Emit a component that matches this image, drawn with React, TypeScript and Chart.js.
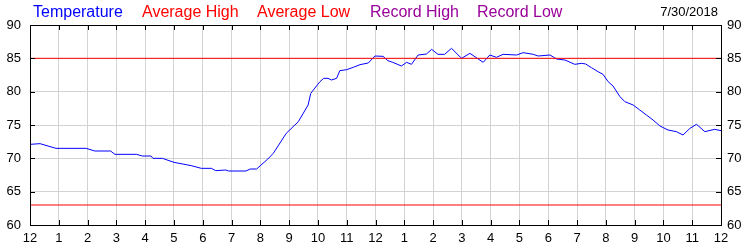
import React, { useEffect, useRef } from "react";
import { Chart, registerables } from "chart.js";

Chart.register(...registerables);

// Hours since midnight (0..24) of each reading
const hours = [
  0, 0.35, 0.9, 1.95, 2.25, 2.8, 2.95, 3.7, 3.9, 4.2, 4.27, 4.6, 5.0, 5.6, 5.95, 6.3, 6.45, 6.8, 6.9, 7.5,
  7.65, 7.87, 8.26, 8.45, 8.9, 9.32, 9.66, 9.75, 10.07, 10.2, 10.35, 10.47, 10.65, 10.76, 11.0, 11.23, 11.46,
  11.75, 11.98, 12.26, 12.43, 12.6, 12.9, 13.08, 13.25, 13.48, 13.77, 13.95, 14.17, 14.4, 14.64, 14.99, 15.28,
  15.74, 15.97, 16.2, 16.43, 16.9, 17.13, 17.48, 17.65, 18.06, 18.29, 18.58, 18.92, 19.16, 19.3, 19.5, 19.73,
  19.9, 20.08, 20.25, 20.49, 20.66, 20.95, 21.18, 21.41, 21.64, 21.88, 22.16, 22.45, 22.68, 22.92, 23.15,
  23.44, 23.78, 24,
];

// Temperature readings (°F)
const temperature = [
  72.1, 72.2, 71.5, 71.5, 71.1, 71.1, 70.6, 70.6, 70.35, 70.35, 70.0, 70.0, 69.4, 68.9, 68.5, 68.5, 68.15,
  68.25, 68.1, 68.1, 68.4, 68.4, 69.9, 70.75, 73.75, 75.5, 78, 79.75, 81.5, 82.0, 82.0, 81.75, 82.0, 83.15,
  83.3, 83.65, 84.05, 84.3, 85.35, 85.3, 84.65, 84.4, 83.85, 84.4, 84.1, 85.5, 85.65, 86.35, 85.6, 85.6, 86.5,
  85.0, 85.75, 84.4, 85.5, 85.15, 85.6, 85.5, 85.85, 85.6, 85.35, 85.5, 84.9, 84.75, 84.1, 84.25, 84.15, 83.6,
  83.0, 82.6, 81.5, 80.85, 79.25, 78.5, 78.0, 77.25, 76.5, 75.75, 74.85, 74.25, 74.0, 73.5, 74.5, 75.1, 74.0,
  74.35, 74.15,
];

const averageHigh = 85;
const averageLow = 63;

const hourLabels = [
  "12", "1", "2", "3", "4", "5", "6", "7", "8", "9", "10", "11",
  "12", "1", "2", "3", "4", "5", "6", "7", "8", "9", "10", "11", "12",
];

const yMin = 60;
const yMax = 90;
const yStep = 5;

const legendLabels = ["Temperature", "Average High", "Average Low", "Record High", "Record Low"];
const legendColors = ["#0000ff", "#ff0000", "#ff0000", "#990099", "#990099"];
const dateLabel = "7/30/2018";

const FONT = "'Liberation Sans', Arial, sans-serif";
const LEGEND_X = [33, 142, 257, 370, 477];

const framePlugin = {
  id: "frameAndLegend",
  afterDatasetsDraw(chart: any) {
    const ctx = chart.ctx;
    const { left, right, top, bottom } = chart.chartArea;
    ctx.save();
    ctx.strokeStyle = "#000";
    ctx.lineWidth = 1;
    ctx.beginPath();
    const xs = chart.scales.x;
    xs.ticks.forEach((t: any) => {
      const px = Math.round(xs.getPixelForValue(t.value)) + 0.5;
      ctx.moveTo(px, bottom);
      ctx.lineTo(px, bottom - 5);
      ctx.moveTo(px, top);
      ctx.lineTo(px, top + 5);
    });
    const ys = chart.scales.y;
    ys.ticks.forEach((t: any) => {
      const py = Math.round(ys.getPixelForValue(t.value)) + 0.5;
      ctx.moveTo(left, py);
      ctx.lineTo(left + 5, py);
      ctx.moveTo(right, py);
      ctx.lineTo(right - 5, py);
    });
    ctx.stroke();
    ctx.strokeRect(left + 0.5, top + 0.5, right - left, bottom - top);
    ctx.restore();
  },
  afterDraw(chart: any) {
    const ctx = chart.ctx;
    ctx.save();
    ctx.font = `16px ${FONT}`;
    ctx.textBaseline = "middle";
    ctx.textAlign = "left";
    legendLabels.forEach((label, i) => {
      ctx.fillStyle = legendColors[i];
      ctx.fillText(label, LEGEND_X[i], 13);
    });
    ctx.font = `13px ${FONT}`;
    ctx.fillStyle = "#000";
    ctx.textAlign = "right";
    ctx.fillText(dateLabel, 718, 12);
    ctx.restore();
  },
};

export default function App() {
  const canvasRef = useRef<HTMLCanvasElement | null>(null);

  useEffect(() => {
    if (!canvasRef.current) return;
    const tempData = hours.map((h, i) => ({ x: h, y: temperature[i] }));
    const highData = [{ x: 0, y: averageHigh }, { x: 24, y: averageHigh }];
    const lowData = [{ x: 0, y: averageLow }, { x: 24, y: averageLow }];

    const tickFont = { family: FONT, size: 13 };

    const chart = new Chart(canvasRef.current, {
      type: "line",
      data: {
        datasets: [
          {
            label: "Average High",
            data: highData,
            borderColor: "#ff0000",
            borderWidth: 1,
            pointRadius: 0,
          },
          {
            label: "Average Low",
            data: lowData,
            borderColor: "#ff0000",
            borderWidth: 1,
            pointRadius: 0,
          },
          {
            label: "Temperature",
            data: tempData,
            borderColor: "#0000ff",
            borderWidth: 1,
            pointRadius: 0,
            tension: 0,
          },
        ],
      },
      options: {
        animation: false,
        responsive: false,
        devicePixelRatio: 1,
        layout: { padding: { top: 25, left: 0, right: 0, bottom: 0 } },
        plugins: {
          legend: { display: false },
          tooltip: { enabled: false },
        },
        scales: {
          x: {
            type: "linear",
            min: 0,
            max: 24,
            afterFit: (s: any) => {
              s.height = 25;
            },
            ticks: {
              stepSize: 1,
              autoSkip: false,
              maxRotation: 0,
              padding: 6,
              color: "#000",
              font: tickFont,
              callback: (v: any) => hourLabels[Math.round(Number(v))] ?? "",
            },
            grid: { color: "#d3d3d3", drawTicks: false },
            border: { display: false },
          },
          y: {
            position: "left",
            min: yMin,
            max: yMax,
            afterFit: (s: any) => {
              s.width = 30;
            },
            ticks: { stepSize: yStep, padding: 9, color: "#000", font: tickFont },
            grid: { color: "#d3d3d3", drawTicks: false },
            border: { display: false },
          },
          y2: {
            position: "right",
            min: yMin,
            max: yMax,
            afterFit: (s: any) => {
              s.width = 29;
            },
            ticks: { stepSize: yStep, padding: 6, color: "#000", font: tickFont },
            grid: { display: false, drawTicks: false },
            border: { display: false },
          },
        },
      } as any,
      plugins: [framePlugin],
    });
    return () => chart.destroy();
  }, []);

  return (
    <div style={{ position: "absolute", left: 0, top: 0, width: 750, height: 250, background: "#fff" }}>
      <canvas ref={canvasRef} width={750} height={250} />
    </div>
  );
}
